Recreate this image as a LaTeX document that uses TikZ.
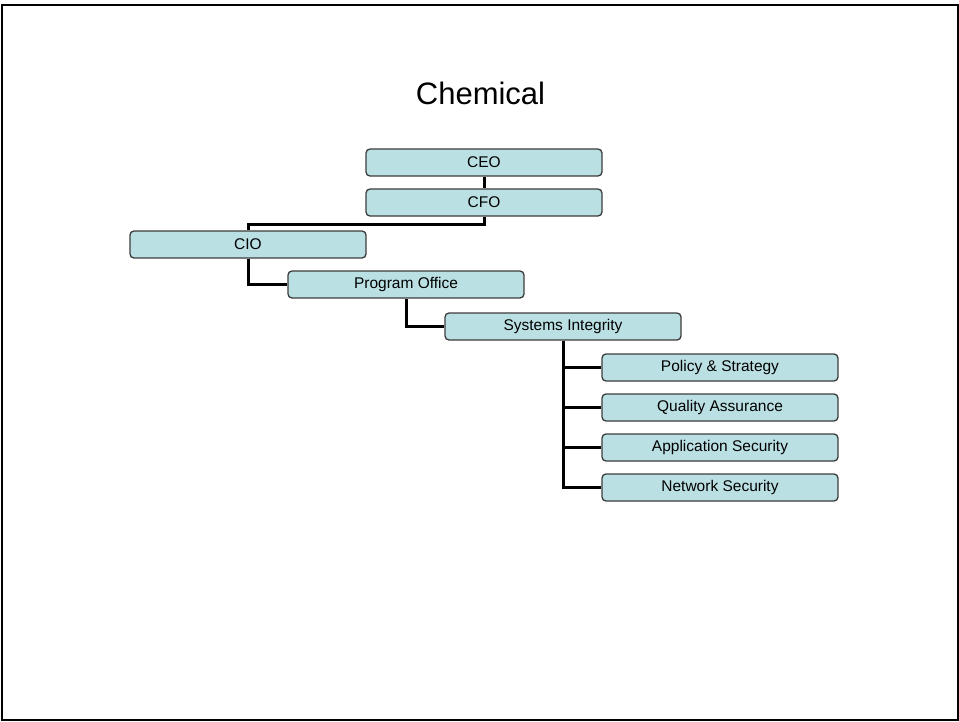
\documentclass[tikz,border=0pt]{standalone}
\usepackage{fontspec}
\setmainfont{Liberation Sans}
\usetikzlibrary{backgrounds}
\definecolor{boxfill}{RGB}{187,224,227}
\definecolor{boxline}{RGB}{60,60,60}
\tikzset{
  orgbox/.style={draw=boxline, line width=1.3pt, fill=boxfill, rounded corners=4pt,
    minimum width=236pt, minimum height=27pt, inner sep=0pt,
    font=\fontsize{15.5}{18}\selectfont},
  conn/.style={draw=black, line width=3pt},
}
\begin{document}
\begin{tikzpicture}[x=1pt,y=-1pt]
  \useasboundingbox (0,0) rectangle (959,721);
  % slide frame
  \draw[line width=2pt] (2,5) rectangle (958,720);
  % title
  \node[anchor=base, font=\fontsize{31}{36}\selectfont] (title) at (480.5,104) {Chemical};
  % boxes
  \node[orgbox] (ceo) at (484,162.5) {CEO};
  \node[orgbox] (cfo) at (484,202.5) {CFO};
  \node[orgbox] (cio) at (248,244.5) {CIO};
  \node[orgbox] (po)  at (406,284.5) {Program Office};
  \node[orgbox] (si)  at (563,326.5) {Systems Integrity};
  \node[orgbox] (ps)  at (720,367.5) {Policy \& Strategy};
  \node[orgbox] (qa)  at (720,407.5) {Quality Assurance};
  \node[orgbox] (as)  at (720,447.5) {Application Security};
  \node[orgbox] (ns)  at (720,487.5) {Network Security};
  % connectors
  \begin{pgfonlayer}{background}
    \draw[conn] (ceo.south) -- (cfo.north);
    \draw[conn] (cfo.south) -- ++(0,7.5) -| (cio.north);
    \draw[conn] (cio.south) |- (po.west);
    \draw[conn] (po.south) |- (si.west);
    \draw[conn] (si.south) |- (ps.west);
    \draw[conn] (si.south) |- (qa.west);
    \draw[conn] (si.south) |- (as.west);
    \draw[conn] (si.south) |- (ns.west);
  \end{pgfonlayer}
\end{tikzpicture}
\end{document}
